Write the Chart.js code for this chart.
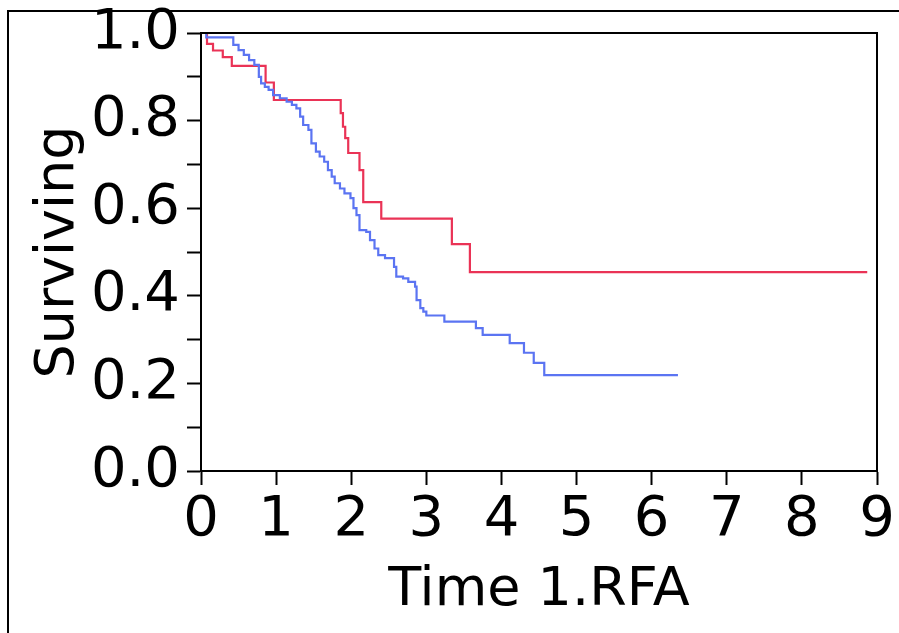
<!DOCTYPE html>
<html>
<head>
<meta charset="utf-8">
<script src="https://cdn.jsdelivr.net/npm/chart.js@4.4.1/dist/chart.umd.min.js"></script>
<style>
    html, body { margin: 0; padding: 0; background: #fff; overflow: hidden; }
    #frame {
        position: absolute; left: 7px; top: 10px; width: 1000px; height: 1000px;
        border-left: 2px solid #000; border-top: 2px solid #000;
    }
    #km { position: absolute; left: 0; top: 0; }
</style>
</head>
<body>
<div id="frame"></div>
<canvas id="km" width="899" height="633"></canvas>
<script>
// survival curves (time of step, survival after the step)
const redTime = [0, 0.08, 0.16, 0.29, 0.41, 0.86, 0.97, 1.86, 1.89, 1.92, 1.96, 2.11, 2.16, 2.40, 3.34, 3.58, 8.87];
const redSurv = [1.0, 0.975, 0.96, 0.945, 0.925, 0.887, 0.847, 0.817, 0.786, 0.76, 0.726, 0.687, 0.614, 0.576, 0.518, 0.454, 0.454];

const blueTime = [0, 0.07, 0.43, 0.50, 0.57, 0.64, 0.71, 0.77, 0.80, 0.85, 0.90, 0.96, 1.05, 1.14, 1.21, 1.27,
    1.32, 1.36, 1.43, 1.47, 1.53, 1.58, 1.64, 1.69, 1.74, 1.78, 1.85, 1.91, 1.99, 2.03, 2.07, 2.11,
    2.20, 2.25, 2.31, 2.36, 2.45, 2.57, 2.60, 2.69, 2.76, 2.85, 2.87, 2.92, 2.96, 3.00, 3.24, 3.66,
    3.75, 4.11, 4.30, 4.43, 4.57, 6.35];
const blueSurv = [1.0, 0.99, 0.973, 0.961, 0.95, 0.938, 0.927, 0.90, 0.885, 0.877, 0.87, 0.858, 0.851, 0.843, 0.836, 0.828,
    0.809, 0.79, 0.779, 0.748, 0.729, 0.718, 0.706, 0.687, 0.672, 0.657, 0.645, 0.634, 0.623, 0.60, 0.584, 0.55,
    0.546, 0.527, 0.508, 0.493, 0.486, 0.466, 0.444, 0.44, 0.432, 0.421, 0.39, 0.372, 0.364, 0.355, 0.341, 0.326,
    0.311, 0.292, 0.27, 0.247, 0.219, 0.219];

const xTicks = [0, 1, 2, 3, 4, 5, 6, 7, 8, 9];
const yTicks = [0, 0.1, 0.2, 0.3, 0.4, 0.5, 0.6, 0.7, 0.8, 0.9, 1.0];

function toPoints(ts, ss) {
    return ts.map((t, i) => ({ x: t, y: ss[i] }));
}

const frameBox = {
    id: "frameBox",
    afterDatasetsDraw(chart) {
        const a = chart.chartArea;
        const ctx = chart.ctx;
        ctx.save();
        ctx.strokeStyle = "#000";
        ctx.lineWidth = 2;
        ctx.beginPath();
        ctx.moveTo(a.left, a.top);
        ctx.lineTo(a.right, a.top);
        ctx.lineTo(a.right, a.bottom);
        ctx.stroke();
        ctx.restore();
    }
};

const tickFont = { family: "DejaVu Sans", size: 56, lineHeight: 1 };
const titleFont = { family: "DejaVu Sans", size: 54, lineHeight: 1 };

new Chart(document.getElementById("km").getContext("2d"), {
    type: "line",
    data: {
        datasets: [
            {
                label: "blue",
                data: toPoints(blueTime, blueSurv),
                borderColor: "#5b74f2",
                borderWidth: 2.2,
                pointRadius: 0,
                stepped: true,
                fill: false
            },
            {
                label: "red",
                data: toPoints(redTime, redSurv),
                borderColor: "#ea3356",
                borderWidth: 2.2,
                pointRadius: 0,
                stepped: true,
                fill: false
            }
        ]
    },
    options: {
        responsive: false,
        animation: false,
        devicePixelRatio: 1,
        layout: { padding: { left: 0, top: 33, right: 22, bottom: 0 } },
        plugins: {
            legend: { display: false },
            tooltip: { enabled: false }
        },
        scales: {
            x: {
                type: "linear",
                min: xTicks[0],
                max: xTicks[xTicks.length - 1],
                afterBuildTicks: (s) => { s.ticks = xTicks.map(v => ({ value: v })); },
                afterFit: (s) => {
                    s.height = 162;
                    s.paddingLeft = 0;
                    s.paddingRight = 0;
                },
                grid: { drawOnChartArea: false, tickLength: 14, tickWidth: 2, tickColor: "#000" },
                border: { color: "#000", width: 2 },
                ticks: { color: "#000", font: tickFont, padding: 7, autoSkip: false, maxRotation: 0 },
                title: { display: true, text: "Time 1.RFA", color: "#000", font: titleFont, padding: { top: 0, bottom: 15 } }
            },
            y: {
                min: 0,
                max: 1,
                afterBuildTicks: (s) => { s.ticks = yTicks.map(v => ({ value: v })); },
                afterFit: (s) => {
                    s.width = 201;
                    s.paddingTop = 0;
                    s.paddingBottom = 0;
                },
                grid: { drawOnChartArea: false, tickLength: 14, tickWidth: 2, tickColor: "#000" },
                border: { color: "#000", width: 2 },
                ticks: {
                    color: "#000",
                    font: tickFont,
                    padding: 7,
                    autoSkip: false,
                    callback: (v) => {
                        const k = Math.round(v * 10);
                        return k % 2 === 0 ? (k / 10).toFixed(1) : "";
                    }
                },
                title: { display: true, text: "Surviving", color: "#000", font: titleFont, padding: { top: 32, bottom: 0 } }
            }
        }
    },
    plugins: [frameBox]
});
</script>
</body>
</html>
